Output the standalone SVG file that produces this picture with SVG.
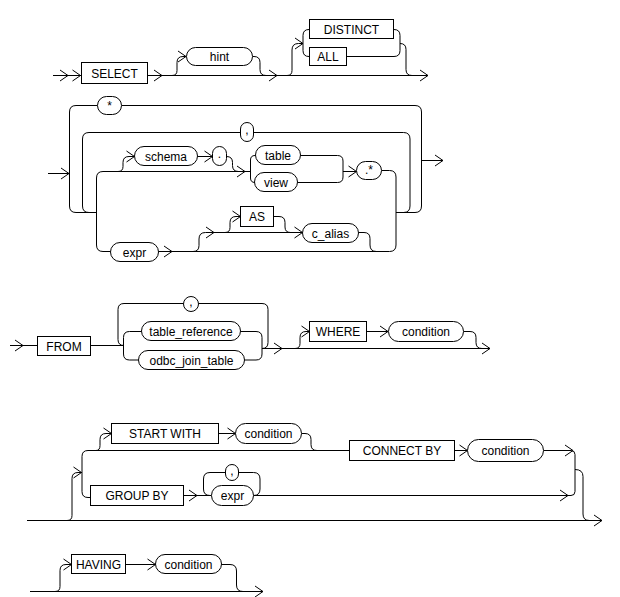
<svg xmlns="http://www.w3.org/2000/svg" xmlns:xlink="http://www.w3.org/1999/xlink" width="620" height="597" viewBox="0 0 620 597">
<style>
rect{fill:#fff;stroke:#000;stroke-width:1}
text{font-family:"Liberation Sans",Arial,sans-serif;font-size:12px;text-anchor:middle;fill:#000}
#c path,#c use{fill:none;stroke:#000;stroke-width:1}
</style>
<defs><path id="ar" d="M-8,-5.5 L0,0 L-8,5.5" fill="none" stroke="#000"/></defs>
<rect x="0" y="0" width="620" height="597" style="fill:#fff;stroke:none"/>
<g id="c">
<path d="M53,75.5 H81 M147.5,75.5 H428"/>
<path d="M172,75.5 q5,0 5,-5 V62.5 q0,-6 6,-6 H186.5"/>
<path d="M252.5,56.5 H254 q6,0 6,6 V69.5 q0,6 6,6"/>
<path d="M287,75.5 q5,0 5,-5 V50 q0,-6.5 6.5,-6.5 H303"/>
<path d="M309.5,29.5 H309 q-6,0 -6,6 V50.5 q0,6 6,6 H309.5"/>
<path d="M393.5,29.5 H394 q6,0 6,6 V50.5 q0,6 -6,6 H346.5"/>
<path d="M400,43.5 q6,0 6,6 V69.5 q0,6 6,6"/>
<use href="#ar" x="68" y="75.5"/><use href="#ar" x="80.5" y="75.5"/><use href="#ar" x="162" y="75.5"/><use href="#ar" x="186" y="56.5"/><use href="#ar" x="277" y="75.5"/><use href="#ar" x="303" y="43.5"/><use href="#ar" x="428" y="75.5"/>

<path d="M48,173.5 H69.5"/>
<path d="M96.5,212.5 H76 q-6.5,0 -6.5,-6.5 V112 q0,-6.5 6.5,-6.5 H97.5"/>
<path d="M121.5,105.5 H415 q6.5,0 6.5,6.5 V206 q0,6.5 -6.5,6.5 H396"/>
<path d="M421.5,160.5 H443"/>
<path d="M96.5,212.5 H89 q-6.5,0 -6.5,-6.5 V139 q0,-6.5 6.5,-6.5 H240.5"/>
<path d="M253.5,132.5 H403.5 q6.5,0 6.5,6.5 V206 q0,6.5 -6.5,6.5 H396"/>
<path d="M110.5,251.5 H103 q-6.5,0 -6.5,-6.5 V178 q0,-6.5 6.5,-6.5 H250.5"/>
<path d="M255.5,155.5 H255 q-4.5,0 -4.5,4.5 V178 q0,4.5 4.5,4.5"/>
<path d="M300.5,155.5 H337.5 q5.5,0 5.5,5.5 V177 q0,5.5 -5.5,5.5 H297.5"/>
<path d="M343,171.5 H356.5"/>
<path d="M381.5,170.5 H389.5 q6.5,0 6.5,6.5 V245 q0,6.5 -6.5,6.5"/>
<path d="M158.5,251.5 H389.5"/>
<path d="M118,171.5 q5,0 5,-5 V162.5 q0,-6 6,-6 H134.5"/>
<path d="M197.5,156.5 H212.5"/>
<path d="M226.5,156.5 q6,0 6,6 V165.5 q0,6 6,6"/>
<path d="M193,251.5 q6,0 6,-6 V239 q0,-6.5 6.5,-6.5 H302.5"/>
<path d="M225,232.5 q5,0 5,-5 V222.5 q0,-6 6,-6 H240.5"/>
<path d="M273.5,216.5 H279 q6,0 6,6 V227 q0,5.5 5.5,5.5"/>
<path d="M358.5,232.5 H364 q6,0 6,6 V245 q0,6.5 6.5,6.5"/>
<use href="#ar" x="69" y="173.5"/><use href="#ar" x="443" y="160.5"/><use href="#ar" x="245" y="171.5"/><use href="#ar" x="356.5" y="171.5"/><use href="#ar" x="172" y="251.5"/><use href="#ar" x="134.5" y="156.5"/><use href="#ar" x="212.5" y="156.5"/><use href="#ar" x="214" y="232.5"/><use href="#ar" x="302.5" y="232.5"/><use href="#ar" x="240.5" y="216.5"/>

<path d="M10,345.5 H37.5 M90.5,345.5 H123.5"/>
<path d="M183.5,303.5 H124 q-6,0 -6,6 V339.5 q0,6 6,6"/>
<path d="M141.5,331.5 H129.5 q-6,0 -6,6 V354 q0,6 6,6 H138.5"/>
<path d="M240.5,331.5 H256 q6,0 6,6 V354 q0,6 -6,6 H244.5"/>
<path d="M262,348.5 q6,0 6,-6 V309.5 q0,-6 -6,-6 H198.5"/>
<path d="M262,348.5 H490"/>
<path d="M295,348.5 q5,0 5,-5 V337.5 q0,-6 6,-6 H309.5"/>
<path d="M366.5,331.5 H388"/>
<path d="M463.5,331.5 H470 q6,0 6,6 V342.5 q0,6 6,6"/>
<use href="#ar" x="23" y="345.5"/><use href="#ar" x="282" y="348.5"/><use href="#ar" x="490" y="348.5"/><use href="#ar" x="309.5" y="331.5"/><use href="#ar" x="388" y="331.5"/>

<path d="M27,520.5 H602"/>
<path d="M67,520.5 q5,0 5,-5 V478.5 q0,-6 6,-6 H82"/>
<path d="M88,450.5 q-6,0 -6,6 V491.5 q0,6 6,6 H90.5"/>
<path d="M88,450.5 H349.5"/>
<path d="M96,450.5 q4,0 4,-5 V439.5 q0,-6 6,-6 H111.5"/>
<path d="M218.5,433.5 H235.5"/>
<path d="M301.5,433.5 H305 q6,0 6,6 V444.5 q0,6 6,6"/>
<path d="M454.5,450.5 H467.5"/>
<path d="M543.5,450.5 H571 q4,0 4,4 V491.5 q0,4 -4,4 H253.5"/>
<path d="M575,469.5 q8,0 8,7 V514 q0,6.5 6.5,6.5"/>
<path d="M183.5,495.5 H211.5"/>
<path d="M253.5,495.5 q6.5,0 6.5,-6.5 V479 q0,-6.5 -6.5,-6.5 H238.5"/>
<path d="M225.5,472.5 H210 q-6.5,0 -6.5,6.5 V489 q0,6.5 6.5,6.5"/>
<use href="#ar" x="602" y="520.5"/><use href="#ar" x="81.5" y="472.5"/><use href="#ar" x="111.5" y="433.5"/><use href="#ar" x="235.5" y="433.5"/><use href="#ar" x="467.5" y="450.5"/><use href="#ar" x="573" y="450.5"/><use href="#ar" x="568" y="495.5"/><use href="#ar" x="197" y="495.5"/>

<path d="M30,591.5 H263"/>
<path d="M55,591.5 q5,0 5,-5 V570.5 q0,-6 6,-6 H71.5"/>
<path d="M125.5,564.5 H155.5"/>
<path d="M221.5,564.5 H230 q6.5,0 6.5,6.5 V585 q0,6.5 6.5,6.5"/>
<use href="#ar" x="263" y="591.5"/><use href="#ar" x="71.5" y="564.5"/><use href="#ar" x="155.5" y="564.5"/>
</g>

<g id="select"><rect x="81.5" y="62.5" width="66" height="21"/><text x="114.5" y="77.5">SELECT</text></g>
<g id="hint"><rect x="186.5" y="47.5" width="66" height="18" rx="9"/><text x="219.5" y="61">hint</text></g>
<g id="distinct"><rect x="309.5" y="19.5" width="84" height="19"/><text x="351.5" y="33.5">DISTINCT</text></g>
<g id="all"><rect x="309.5" y="47.5" width="37" height="18"/><text x="328" y="61">ALL</text></g>

<g id="star"><rect x="97.5" y="96.5" width="24" height="18" rx="9"/><text x="109.5" y="109.5">*</text></g>
<g id="comma1"><rect x="240.5" y="122.5" width="13" height="19" rx="6.5"/><text x="247" y="133.5">,</text></g>
<g id="schema"><rect x="134.5" y="146.5" width="63" height="19" rx="9.5"/><text x="166" y="160.5">schema</text></g>
<g id="dot"><rect x="212.5" y="146.5" width="14" height="19" rx="7"/><text x="219.5" y="158">.</text></g>
<g id="table"><rect x="255.5" y="145.5" width="45" height="19" rx="9.5"/><text x="278" y="159.5">table</text></g>
<g id="view"><rect x="254.5" y="172.5" width="43" height="19" rx="9.5"/><text x="276" y="186.5">view</text></g>
<g id="dotstar"><rect x="356.5" y="161.5" width="25" height="18" rx="9"/><text x="369" y="174">.*</text></g>
<g id="expr1"><rect x="110.5" y="242.5" width="48" height="19" rx="9.5"/><text x="134.5" y="256.5">expr</text></g>
<g id="as"><rect x="240.5" y="206.5" width="33" height="20"/><text x="257" y="221">AS</text></g>
<g id="c_alias"><rect x="302.5" y="223.5" width="56" height="19" rx="9.5"/><text x="330.5" y="237.5">c_alias</text></g>

<g id="from"><rect x="37.5" y="336.5" width="53" height="19"/><text x="64" y="350.5">FROM</text></g>
<g id="comma2"><rect x="183.5" y="296.5" width="15" height="15" rx="7.5"/><text x="191" y="305.5">,</text></g>
<g id="table_reference"><rect x="141.5" y="321.5" width="99" height="19" rx="9.5"/><text x="191" y="335.5">table_reference</text></g>
<g id="odbc_join_table"><rect x="138.5" y="350.5" width="106" height="19" rx="9.5"/><text x="191.5" y="364.5">odbc_join_table</text></g>
<g id="where"><rect x="309.5" y="321.5" width="57" height="20"/><text x="338" y="336">WHERE</text></g>
<g id="cond1"><rect x="388.5" y="321.5" width="75" height="20" rx="10"/><text x="426" y="336">condition</text></g>

<g id="start_with"><rect x="111.5" y="423.5" width="107" height="20"/><text x="165" y="438">START WITH</text></g>
<g id="cond2"><rect x="235.5" y="423.5" width="66" height="20" rx="10"/><text x="268.5" y="438">condition</text></g>
<g id="connect_by"><rect x="349.5" y="440.5" width="105" height="20"/><text x="402" y="455">CONNECT BY</text></g>
<g id="cond3"><rect x="467.5" y="439.5" width="76" height="22" rx="11"/><text x="505.5" y="455">condition</text></g>
<g id="group_by"><rect x="90.5" y="485.5" width="93" height="20"/><text x="137" y="500">GROUP BY</text></g>
<g id="comma3"><rect x="225.5" y="464.5" width="13" height="16" rx="6.5"/><text x="232" y="474.5">,</text></g>
<g id="expr2"><rect x="211.5" y="485.5" width="42" height="20" rx="10"/><text x="232.5" y="500">expr</text></g>

<g id="having"><rect x="71.5" y="554.5" width="54" height="19"/><text x="98.5" y="568.5">HAVING</text></g>
<g id="cond4"><rect x="155.5" y="554.5" width="66" height="19" rx="9.5"/><text x="188.5" y="568.5">condition</text></g>
</svg>
